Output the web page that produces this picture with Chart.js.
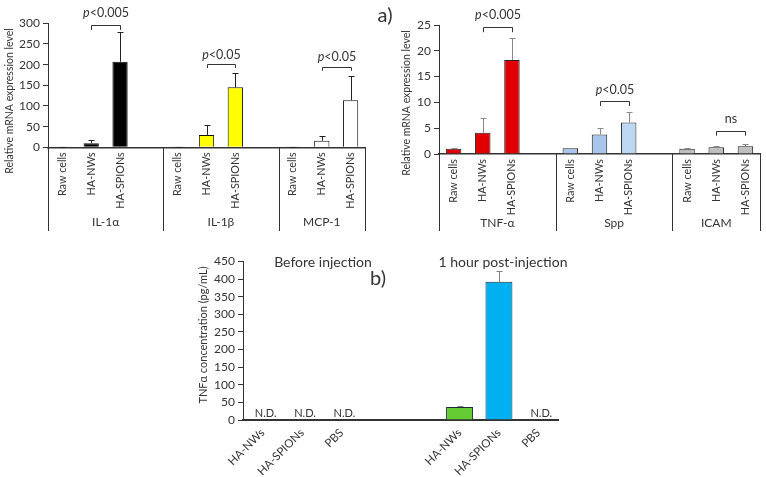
<!DOCTYPE html>
<html><head><meta charset="utf-8">
<script src="https://cdn.jsdelivr.net/npm/chart.js@4.4.0/dist/chart.umd.min.js"></script>
<style>
html,body{margin:0;padding:0;background:#fff;width:766px;height:477px;overflow:hidden}
.box{position:absolute}
canvas{display:block}
</style></head><body>
<div class="box" style="left:0;top:0;"><canvas id="cA" width="400" height="240"></canvas></div>
<div class="box" style="left:390px;top:0;"><canvas id="cB" width="376" height="240"></canvas></div>
<div class="box" style="left:180px;top:250px;"><canvas id="cC" width="420" height="227"></canvas></div>
<script>
const FONT = 'Lato, "Open Sans", sans-serif';
const TXT = '#333';

// ---------- data ----------
const conditions = ['Raw cells', 'HA-NWs', 'HA-SPIONs'];

// panel a (left)
const genesA = ['IL-1α', 'IL-1β', 'MCP-1'];
const il1a = [1, 10, 207];      const il1aErr = [0.5, 8, 71];
const il1b = [1, 30, 145];      const il1bErr = [0.5, 24, 34];
const mcp1 = [1, 16, 114];      const mcp1Err = [0.5, 11, 59];
const ticksA = [0, 50, 100, 150, 200, 250, 300];
const pA = ['p<0.005', 'p<0.05', 'p<0.05'];

// panel a (right)
const genesB = ['TNF-α', 'Spp', 'ICAM'];
const tnfa = [1.0, 4.1, 18.2];  const tnfaErr = [0.2, 2.8, 4.2];
const spp  = [1.1, 3.8, 6.1];   const sppErr  = [0.15, 1.2, 2.0];
const icam = [1.0, 1.3, 1.5];   const icamErr = [0.08, 0.3, 0.4];
const ticksB = [0, 5, 10, 15, 20, 25];
const pB = ['p<0.005', 'p<0.05', 'ns'];

// panel b
const phases = ['Before injection', '1 hour post-injection'];
const groupsC = ['HA-NWs', 'HA-SPIONs', 'PBS'];
const beforeInj = [null, null, null];         // N.D.
const afterInj = [37, 392, null];             // PBS N.D.
const afterErr = [2, 30, null];
const ticksC = [0, 50, 100, 150, 200, 250, 300, 350, 400, 450];

// ---------- helpers ----------
function withGaps(arrs, gap) {
  const out = [];
  arrs.forEach((a, i) => { out.push(...a); if (i < arrs.length - 1) out.push(gap); });
  return out;
}

function drawPText(ctx, text, cx, cy, size) {
  ctx.save();
  ctx.fillStyle = TXT;
  ctx.textBaseline = 'middle';
  if (text.startsWith('p')) {
    const rest = text.slice(1);
    ctx.font = 'italic ' + size + 'px ' + FONT;
    const w1 = ctx.measureText('p').width;
    ctx.font = size + 'px ' + FONT;
    const w2 = ctx.measureText(rest).width;
    const x0 = cx - (w1 + w2) / 2;
    ctx.font = 'italic ' + size + 'px ' + FONT;
    ctx.textAlign = 'left';
    ctx.fillText('p', x0, cy);
    ctx.font = size + 'px ' + FONT;
    ctx.fillText(rest, x0 + w1, cy);
  } else {
    ctx.font = size + 'px ' + FONT;
    ctx.textAlign = 'center';
    ctx.fillText(text, cx, cy);
  }
  ctx.restore();
}

function annot(o) {
  return {
    id: 'annot',
    afterDatasetsDraw(chart) {
      const ctx = chart.ctx, xs = chart.scales.x, ys = chart.scales.y, ca = chart.chartArea;
      const data = chart.data.datasets[0].data;
      ctx.save();
      // error bars
      ctx.strokeStyle = o.errColor; ctx.lineWidth = 1;
      o.errors.forEach((e, i) => {
        if (e == null || data[i] == null) return;
        const px = Math.round(xs.getPixelForValue(i)) + 0.5;
        const y0 = ys.getPixelForValue(data[i]);
        const y1 = Math.round(ys.getPixelForValue(data[i] + e)) + 0.5;
        ctx.beginPath();
        ctx.moveTo(px, y0); ctx.lineTo(px, y1);
        ctx.moveTo(px - 3, y1); ctx.lineTo(px + 3, y1);
        ctx.stroke();
      });
      // separators & group labels
      if (o.bounds) {
        ctx.strokeStyle = '#333'; ctx.lineWidth = 1;
        o.bounds.forEach(b => {
          const px = Math.round(xs.getPixelForValue(b)) + 0.5;
          ctx.beginPath(); ctx.moveTo(px, ca.bottom); ctx.lineTo(px, o.sepBottom); ctx.stroke();
        });
        ctx.fillStyle = TXT; ctx.font = '12px ' + FONT;
        ctx.textAlign = 'center'; ctx.textBaseline = 'middle';
        o.groups.forEach((g, k) => {
          const cx = (xs.getPixelForValue(o.bounds[k]) + xs.getPixelForValue(o.bounds[k + 1])) / 2;
          ctx.fillText(g, cx, o.groupY);
        });
      }
      // brackets
      if (o.brackets) {
        ctx.strokeStyle = '#333'; ctx.lineWidth = 1;
        o.brackets.forEach(br => {
          const x1 = Math.round(xs.getPixelForValue(br.from)) + 0.5;
          const x2 = Math.round(xs.getPixelForValue(br.to)) + 0.5;
          const yt = Math.round(ys.getPixelForValue(br.top)) + 0.5;
          const yl = ys.getPixelForValue(br.leg);
          ctx.beginPath();
          ctx.moveTo(x1, yl); ctx.lineTo(x1, yt); ctx.lineTo(x2, yt); ctx.lineTo(x2, yl);
          ctx.stroke();
          drawPText(ctx, br.text, (x1 + x2) / 2, ys.getPixelForValue(br.textV), 12.5);
        });
      }
      // N.D. labels
      if (o.nd) {
        ctx.fillStyle = TXT; ctx.font = '11px ' + FONT;
        ctx.textAlign = 'center'; ctx.textBaseline = 'bottom';
        o.nd.forEach(i => ctx.fillText('N.D.', xs.getPixelForValue(i) + 3, ca.bottom - 1));
      }
      // free texts
      (o.texts || []).forEach(t => {
        ctx.save();
        ctx.fillStyle = TXT; ctx.font = t.font;
        ctx.textAlign = 'center'; ctx.textBaseline = 'middle';
        ctx.translate(t.x, t.y);
        if (t.rot) ctx.rotate(t.rot);
        ctx.fillText(t.text, 0, 0);
        ctx.restore();
      });
      ctx.restore();
    }
  };
}

function makeChart(id, c) {
  return new Chart(document.getElementById(id), {
    type: 'bar',
    data: {
      labels: c.labels,
      datasets: [{
        data: c.values,
        backgroundColor: c.colors,
        borderColor: c.border,
        borderWidth: 1,
        borderSkipped: 'bottom',
        barPercentage: c.barPct,
        categoryPercentage: 1
      }]
    },
    options: {
      responsive: false,
      devicePixelRatio: 1,
      animation: false,
      layout: { padding: c.padding },
      plugins: { legend: { display: false }, tooltip: { enabled: false } },
      scales: {
        x: {
          grid: { display: false, drawTicks: false },
          border: { display: true, color: '#333', width: c.xBorder },
          ticks: {
            autoSkip: false, maxRotation: c.rot, minRotation: c.rot,
            padding: c.xPad, color: TXT, font: { family: FONT, size: c.xFont }
          },
          afterFit: s => { s.height = c.xHeight; }
        },
        y: {
          min: 0, max: c.yTicks[c.yTicks.length - 1],
          afterBuildTicks: s => { s.ticks = c.yTicks.map(v => ({ value: v })); },
          grid: { display: true, drawOnChartArea: false, drawTicks: true, tickLength: 5, color: '#333' },
          border: { display: true, color: '#333', width: 1 },
          ticks: { autoSkip: false, padding: 3, color: TXT, font: { family: FONT, size: c.yFont } },
          afterFit: s => { s.width = c.yWidth; }
        }
      }
    },
    plugins: [annot(c.annot)]
  });
}

// ---------- panel a left ----------
const labelsA = withGaps([conditions, conditions, conditions], '');
makeChart('cA', {
  labels: labelsA,
  values: withGaps([il1a, il1b, mcp1], null),
  colors: withGaps([['#000', '#000', '#000'], ['#ffff00', '#ffff00', '#ffff00'], ['#fff', '#fff', '#fff']], '#fff'),
  border: '#111',
  barPct: 0.53,
  rot: 90, xPad: 5, xBorder: 1.5, xHeight: 92.7, xFont: 10.8, yFont: 12,
  yTicks: ticksA, yWidth: 48,
  padding: { left: 0, right: 35, top: 23.3, bottom: 0 },
  annot: {
    errors: withGaps([il1aErr, il1bErr, mcp1Err], null),
    errColor: '#222',
    bounds: [-0.5, 3.5, 7.5, 10.5], groups: genesA, groupY: 222, sepBottom: 231,
    brackets: [
      { from: 1, to: 2, top: 296, leg: 284, textV: 326, text: pA[0] },
      { from: 5, to: 6, top: 201.5, leg: 192, textV: 223, text: pA[1] },
      { from: 9, to: 10, top: 194, leg: 185, textV: 218, text: pA[2] }
    ],
    texts: [
      { text: 'Relative mRNA expression level', x: 10, y: 101, rot: -Math.PI / 2, font: '10.5px ' + FONT },
      { text: 'a)', x: 385, y: 16, font: '20px ' + FONT }
    ]
  }
});

// ---------- panel a right ----------
makeChart('cB', {
  labels: labelsA,
  values: withGaps([tnfa, spp, icam], null),
  colors: withGaps([['#e00000', '#e00000', '#e00000'], ['#a9c5ec', '#a9c5ec', '#bdd7f2'], ['#bfbfbf', '#bfbfbf', '#bfbfbf']], '#fff'),
  border: '#222',
  barPct: 0.53,
  rot: 90, xPad: 5, xBorder: 1.5, xHeight: 86, xFont: 10.8, yFont: 12,
  yTicks: ticksB, yWidth: 49,
  padding: { left: 0, right: 6, top: 25, bottom: 0 },
  annot: {
    errors: withGaps([tnfaErr, sppErr, icamErr], null),
    errColor: '#8a8a8a',
    bounds: [-0.5, 3.5, 7.5, 10.5], groups: genesB, groupY: 223, sepBottom: 231,
    brackets: [
      { from: 1, to: 2, top: 24.7, leg: 23.6, textV: 26.9, text: pB[0] },
      { from: 5, to: 6, top: 10.3, leg: 9.3, textV: 12.4, text: pB[1] },
      { from: 9, to: 10, top: 4.5, leg: 3.55, textV: 6.7, text: pB[2] }
    ],
    texts: [
      { text: 'Relative mRNA expression level', x: 17, y: 103, rot: -Math.PI / 2, font: '10.5px ' + FONT }
    ]
  }
});

// ---------- panel b ----------
const labelsC = [...groupsC, '', '', ...groupsC];
makeChart('cC', {
  labels: labelsC,
  values: [...beforeInj, null, null, ...afterInj],
  colors: ['#fff', '#fff', '#fff', '#fff', '#fff', '#66cc33', '#00b0f0', '#fff'],
  border: '#1a2a3a',
  barPct: 0.685,
  rot: 45, xPad: 6, xBorder: 2, xHeight: 57, xFont: 11.5, yFont: 12,
  yTicks: ticksC, yWidth: 63,
  padding: { left: 0, right: 42, top: 11.4, bottom: 0 },
  annot: {
    errors: [null, null, null, null, null, ...afterErr],
    errColor: '#808080',
    nd: [0, 1, 2, 7],
    texts: [
      { text: 'TNFα concentration (pg/mL)', x: 23, y: 85, rot: -Math.PI / 2, font: '11px ' + FONT },
      { text: phases[0], x: 143, y: 12, font: '14px ' + FONT },
      { text: phases[1], x: 323, y: 12, font: '14px ' + FONT },
      { text: 'b)', x: 198, y: 29, font: '20px ' + FONT }
    ]
  }
});
</script>
</body></html>
